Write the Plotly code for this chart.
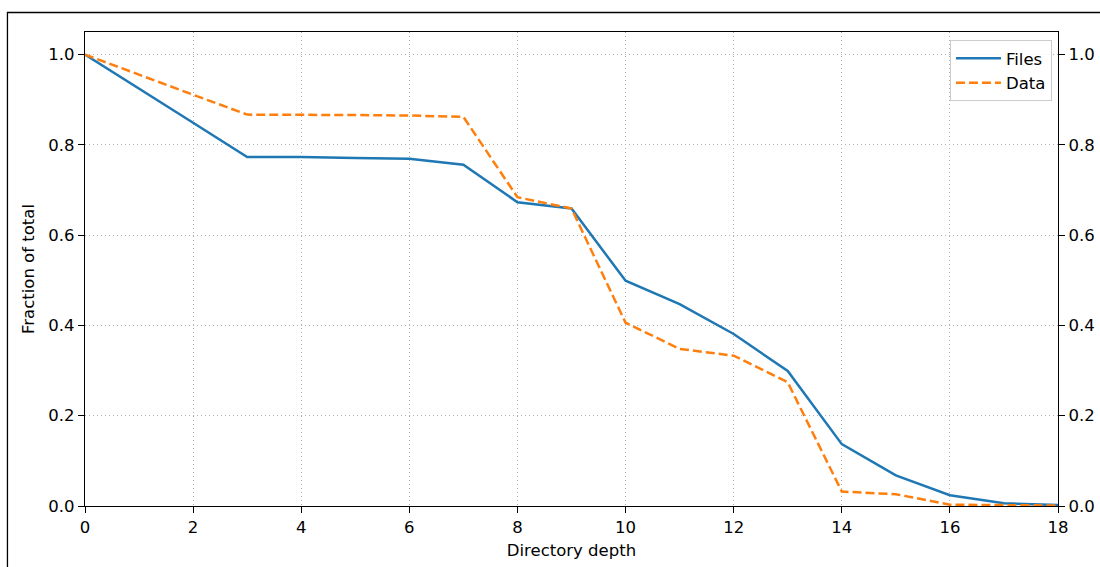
import plotly.graph_objects as go

depth = list(range(0, 19))
files = [1.0, 0.925, 0.849, 0.773, 0.773, 0.771, 0.769, 0.756, 0.673, 0.659,
         0.499, 0.447, 0.381, 0.299, 0.137, 0.068, 0.024, 0.006, 0.002]
data = [1.0, 0.955, 0.911, 0.867, 0.867, 0.866, 0.865, 0.862, 0.684, 0.659,
        0.406, 0.348, 0.333, 0.274, 0.032, 0.026, 0.003, 0.002, 0.001]
x_ticks = [0, 2, 4, 6, 8, 10, 12, 14, 16, 18]
y_ticks = [0.0, 0.2, 0.4, 0.6, 0.8, 1.0]
y_labels = ["0.0", "0.2", "0.4", "0.6", "0.8", "1.0"]

FONT = "DejaVu Sans"
FS = 16.5

fig = go.Figure()
fig.add_trace(go.Scatter(x=depth, y=files, mode="lines", name="Files",
                         line=dict(color="#1f77b4", width=2.5)))
fig.add_trace(go.Scatter(x=depth, y=data, mode="lines", name="Data",
                         line=dict(color="#ff7f0e", width=2.5, dash="9px,4px")))
# invisible trace to anchor the right axis
fig.add_trace(go.Scatter(x=[0], y=[0], yaxis="y2", mode="lines", showlegend=False,
                         hoverinfo="skip", line=dict(color="rgba(0,0,0,0)")))

axis_common = dict(
    showline=True, linecolor="black", linewidth=1.3,
    ticks="outside", ticklen=6, tickwidth=1.3, tickcolor="black",
    tickfont=dict(family=FONT, size=FS, color="black"),
    zeroline=False, automargin=False,
)
grid = dict(showgrid=True, gridcolor="#b0b0b0", gridwidth=1, griddash="1px,3px")

fig.update_layout(
    width=1100, height=567,
    margin=dict(l=85, r=42, t=32, b=61, autoexpand=False),
    paper_bgcolor="white", plot_bgcolor="white",
    font=dict(family=FONT, size=FS, color="black"),
    xaxis=dict(
        range=[0, 18], tickvals=x_ticks, mirror=True,
        title=dict(text="Directory depth", font=dict(family=FONT, size=FS), standoff=8),
        **grid, **axis_common,
    ),
    yaxis=dict(
        range=[0, 1.05], tickvals=y_ticks, ticktext=y_labels,
        title=dict(text="Fraction of total", font=dict(family=FONT, size=FS), standoff=9),
        **grid, **axis_common,
    ),
    yaxis2=dict(
        range=[0, 1.05], tickvals=y_ticks, ticktext=y_labels,
        overlaying="y", side="right", showgrid=False,
        **axis_common,
    ),
    legend=dict(
        x=0.9938, y=0.983, xanchor="right", yanchor="top",
        bgcolor="rgba(255,255,255,0.8)", bordercolor="#cccccc", borderwidth=1,
        font=dict(family=FONT, size=FS), itemwidth=45,
    ),
    showlegend=True,
)

# outer figure frame (cropped at right and bottom)
fig.add_shape(type="rect", xref="paper", yref="paper",
              x0=-0.0797, x1=1.1, y0=-0.2, y1=1.0411,
              line=dict(color="black", width=1.3), fillcolor="rgba(0,0,0,0)",
              layer="below")

fig.write_html(
    "out.html",
    config={"displayModeBar": False},
    post_script="document.body.style.margin='0';document.body.style.overflow='hidden';",
)
